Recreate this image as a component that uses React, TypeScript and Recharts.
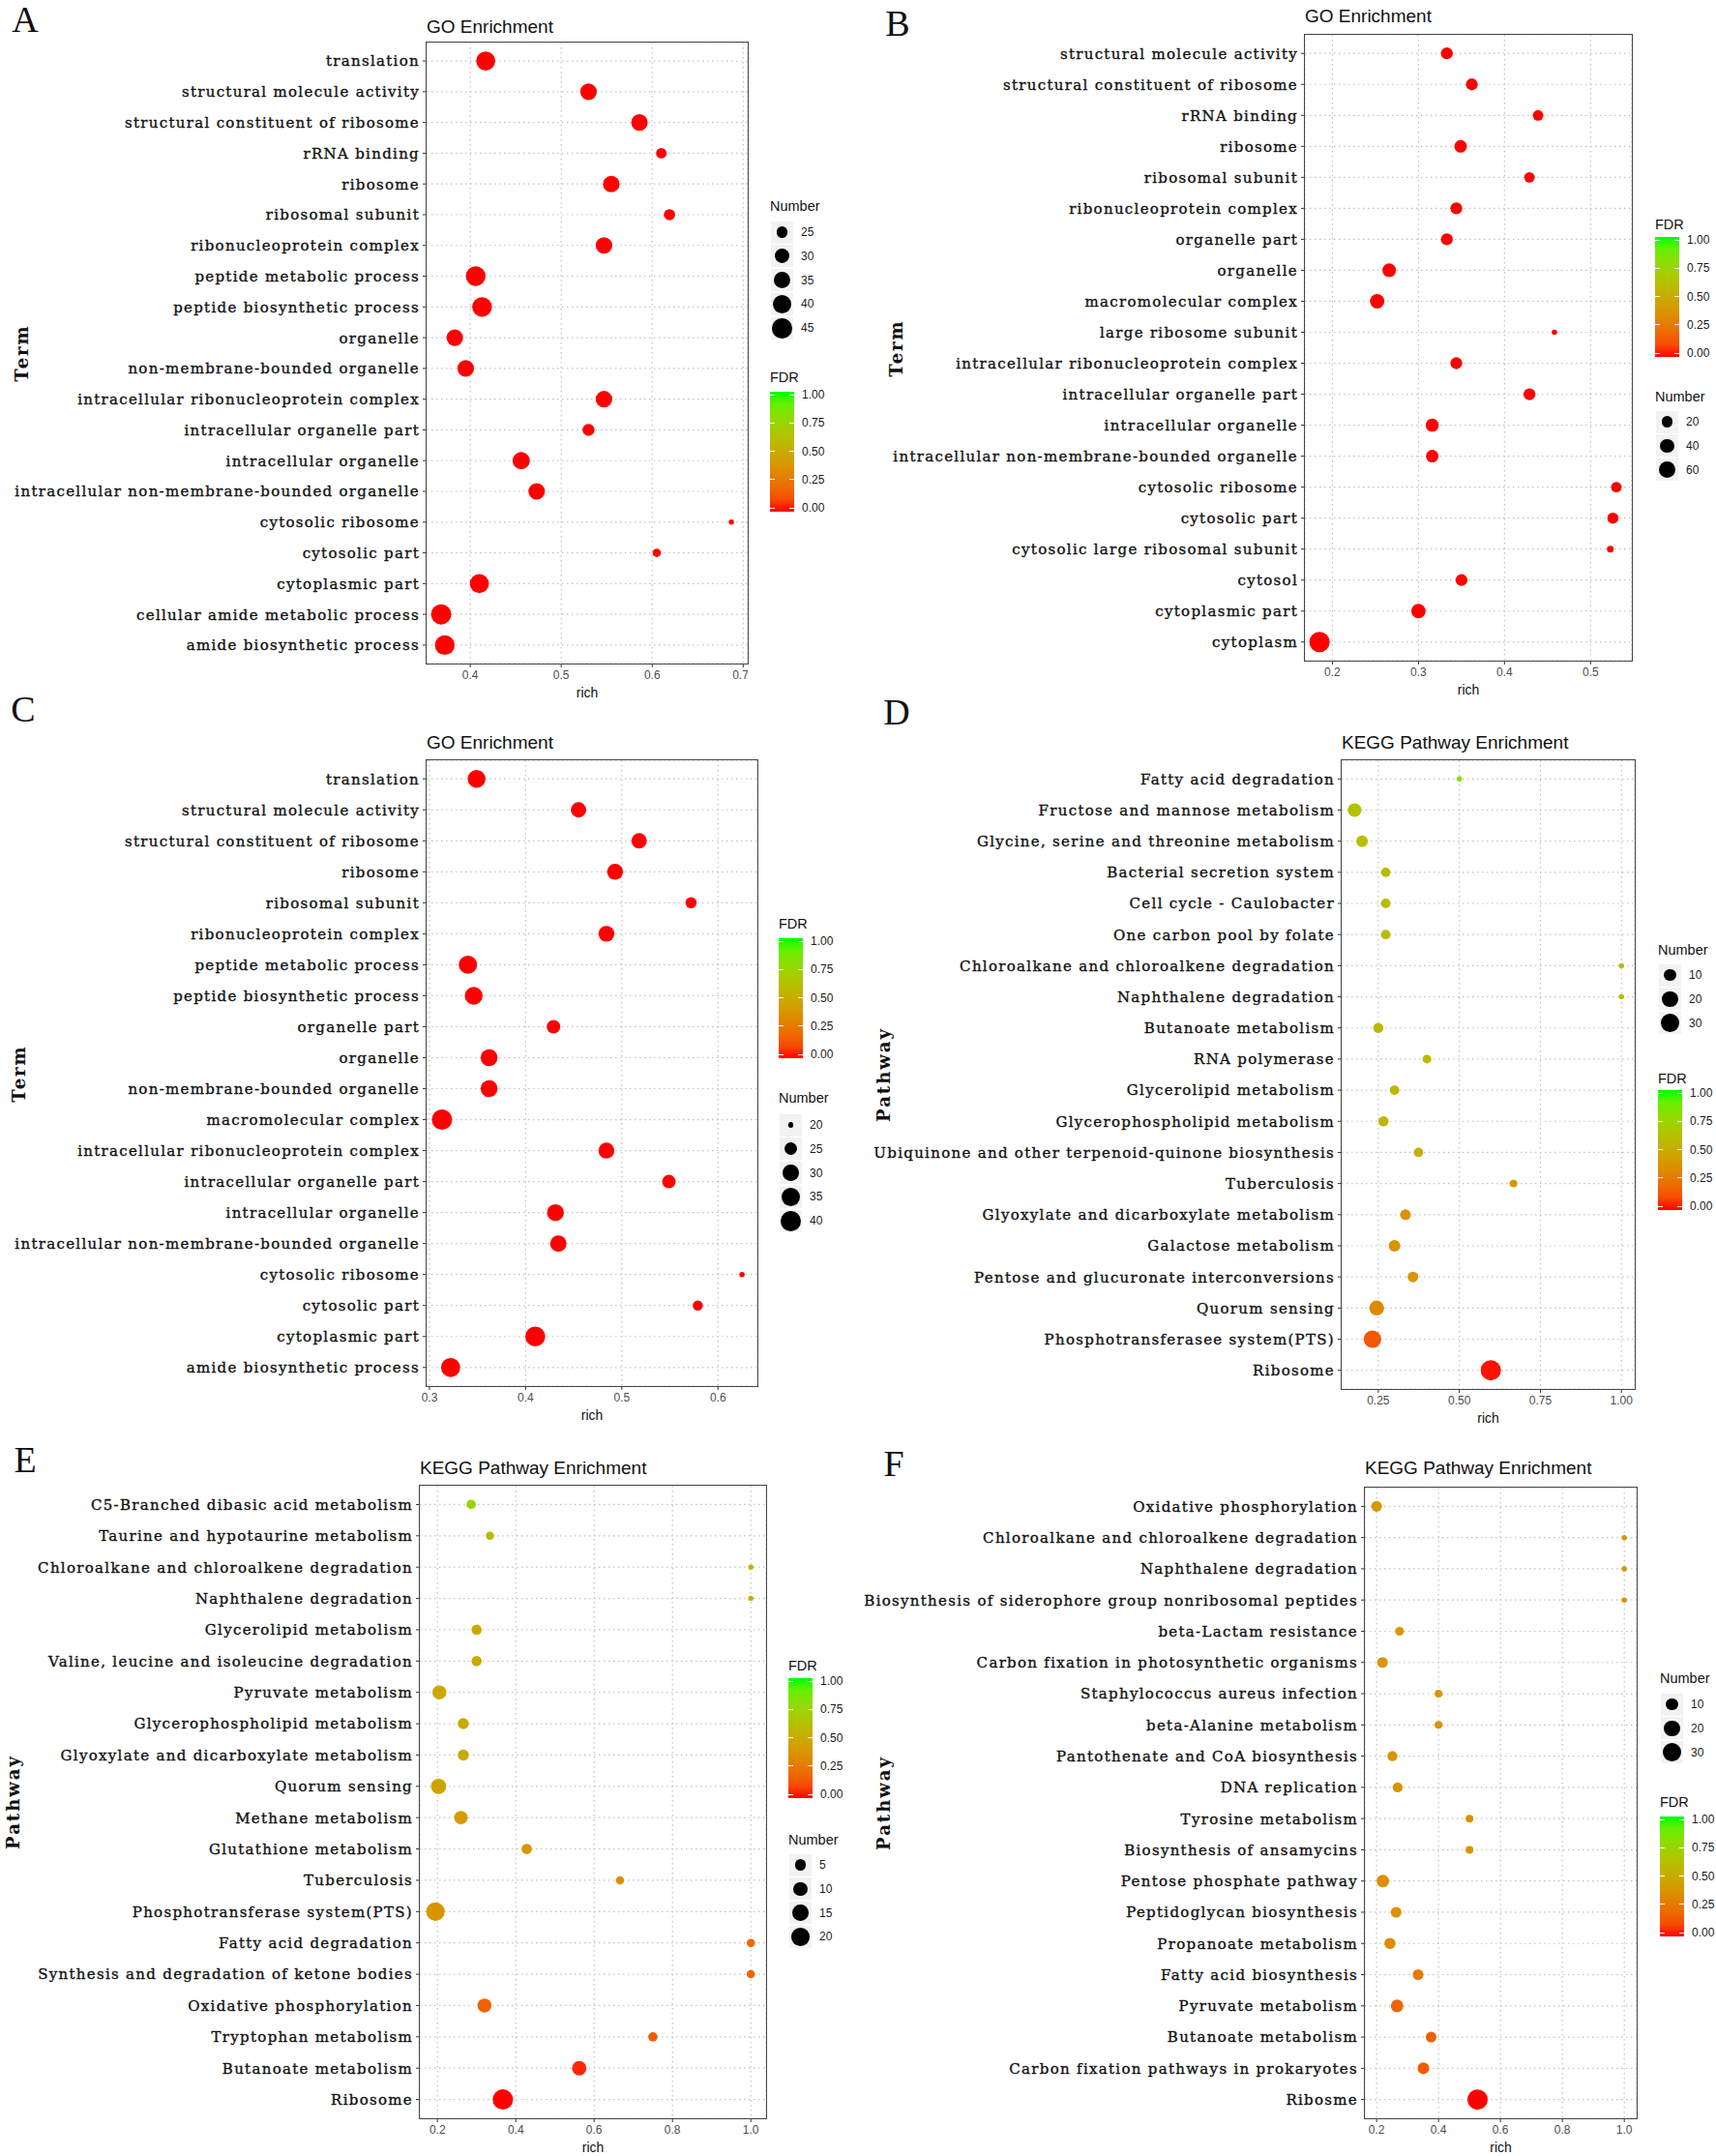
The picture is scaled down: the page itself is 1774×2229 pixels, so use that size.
import React from "react";
import {
  ScatterChart,
  Scatter,
  XAxis,
  YAxis,
  ZAxis,
  CartesianGrid,
  Cell,
  Label,
} from "recharts";

// ---- data ----

const termsA = [
  "translation",
  "structural molecule activity",
  "structural constituent of ribosome",
  "rRNA binding",
  "ribosome",
  "ribosomal subunit",
  "ribonucleoprotein complex",
  "peptide metabolic process",
  "peptide biosynthetic process",
  "organelle",
  "non-membrane-bounded organelle",
  "intracellular ribonucleoprotein complex",
  "intracellular organelle part",
  "intracellular organelle",
  "intracellular non-membrane-bounded organelle",
  "cytosolic ribosome",
  "cytosolic part",
  "cytoplasmic part",
  "cellular amide metabolic process",
  "amide biosynthetic process",
];
const richA = [0.417, 0.53, 0.586, 0.61, 0.555, 0.619, 0.547, 0.406, 0.413, 0.383, 0.395, 0.547, 0.53, 0.456, 0.473, 0.687, 0.605, 0.41, 0.368, 0.372];
const countA = [42, 35, 35, 24, 35, 25, 35, 44, 44, 35, 35, 35, 26, 37, 35, 21, 22, 42, 46, 44];
const fdrA = [0, 0, 0, 0, 0, 0, 0, 0, 0, 0, 0, 0, 0, 0, 0, 0, 0, 0, 0, 0];

const termsB = [
  "structural molecule activity",
  "structural constituent of ribosome",
  "rRNA binding",
  "ribosome",
  "ribosomal subunit",
  "ribonucleoprotein complex",
  "organelle part",
  "organelle",
  "macromolecular complex",
  "large ribosome subunit",
  "intracellular ribonucleoprotein complex",
  "intracellular organelle part",
  "intracellular organelle",
  "intracellular non-membrane-bounded organelle",
  "cytosolic ribosome",
  "cytosolic part",
  "cytosolic large ribosomal subunit",
  "cytosol",
  "cytoplasmic part",
  "cytoplasm",
];
const richB = [0.333, 0.362, 0.439, 0.349, 0.429, 0.344, 0.333, 0.266, 0.252, 0.458, 0.344, 0.429, 0.316, 0.316, 0.53, 0.526, 0.523, 0.35, 0.3, 0.185];
const countB = [25, 25, 18, 29, 18, 25, 25, 37, 42, 6, 25, 25, 33, 29, 18, 21, 7, 25, 42, 105];
const fdrB = [0, 0, 0, 0, 0, 0, 0, 0, 0, 0, 0, 0, 0, 0, 0, 0, 0, 0, 0, 0];

const termsC = [
  "translation",
  "structural molecule activity",
  "structural constituent of ribosome",
  "ribosome",
  "ribosomal subunit",
  "ribonucleoprotein complex",
  "peptide metabolic process",
  "peptide biosynthetic process",
  "organelle part",
  "organelle",
  "non-membrane-bounded organelle",
  "macromolecular complex",
  "intracellular ribonucleoprotein complex",
  "intracellular organelle part",
  "intracellular organelle",
  "intracellular non-membrane-bounded organelle",
  "cytosolic ribosome",
  "cytosolic part",
  "cytoplasmic part",
  "amide biosynthetic process",
];
const richC = [0.349, 0.455, 0.518, 0.493, 0.572, 0.484, 0.34, 0.346, 0.429, 0.362, 0.362, 0.313, 0.484, 0.549, 0.431, 0.434, 0.625, 0.579, 0.41, 0.322];
const countC = [34, 29, 29, 30, 23, 30, 35, 34, 26, 32, 32, 40, 30, 26, 32, 31, 20, 22, 39, 37];
const fdrC = [0, 0, 0, 0, 0, 0, 0, 0, 0, 0, 0, 0, 0, 0, 0, 0, 0, 0, 0, 0];

const termsD = [
  "Fatty acid degradation",
  "Fructose and mannose metabolism",
  "Glycine, serine and threonine metabolism",
  "Bacterial secretion system",
  "Cell cycle - Caulobacter",
  "One carbon pool by folate",
  "Chloroalkane and chloroalkene degradation",
  "Naphthalene degradation",
  "Butanoate metabolism",
  "RNA polymerase",
  "Glycerolipid metabolism",
  "Glycerophospholipid metabolism",
  "Ubiquinone and other terpenoid-quinone biosynthesis",
  "Tuberculosis",
  "Glyoxylate and dicarboxylate metabolism",
  "Galactose metabolism",
  "Pentose and glucuronate interconversions",
  "Quorum sensing",
  "Phosphotransferasee system(PTS)",
  "Ribosome",
];
const richD = [0.5, 0.177, 0.2, 0.273, 0.273, 0.273, 1.0, 1.0, 0.25, 0.4, 0.3, 0.266, 0.374, 0.667, 0.334, 0.3, 0.357, 0.245, 0.232, 0.597];
const countD = [1, 13, 8, 4, 4, 4, 1, 1, 5, 3, 4, 5, 4, 2, 6, 8, 6, 17, 27, 40];
const fdrD = [0.82, 0.62, 0.61, 0.6, 0.6, 0.6, 0.58, 0.58, 0.58, 0.57, 0.56, 0.56, 0.54, 0.4, 0.38, 0.38, 0.38, 0.33, 0.14, 0.01];

const termsE = [
  "C5-Branched dibasic acid metabolism",
  "Taurine and hypotaurine metabolism",
  "Chloroalkane and chloroalkene  degradation",
  "Naphthalene degradation",
  "Glycerolipid metabolism",
  "Valine, leucine and isoleucine degradation",
  "Pyruvate metabolism",
  "Glycerophospholipid metabolism",
  "Glyoxylate and dicarboxylate metabolism",
  "Quorum sensing",
  "Methane metabolism",
  "Glutathione metabolism",
  "Tuberculosis",
  "Phosphotransferase system(PTS)",
  "Fatty acid degradation",
  "Synthesis and degradation of ketone bodies",
  "Oxidative phosphorylation",
  "Tryptophan metabolism",
  "Butanoate metabolism",
  "Ribosome",
];
const richE = [0.286, 0.334, 1.0, 1.0, 0.3, 0.3, 0.205, 0.266, 0.266, 0.203, 0.26, 0.428, 0.666, 0.195, 1.0, 1.0, 0.32, 0.75, 0.562, 0.367];
const countE = [3, 2, 1, 1, 4, 4, 10, 5, 5, 13, 9, 4, 2, 22, 2, 2, 10, 3, 11, 28];
const fdrE = [0.74, 0.58, 0.53, 0.53, 0.5, 0.5, 0.48, 0.48, 0.48, 0.46, 0.41, 0.39, 0.37, 0.38, 0.19, 0.19, 0.17, 0.16, 0.03, 0];

const termsF = [
  "Oxidative phosphorylation",
  "Chloroalkane and chloroalkene degradation",
  "Naphthalene degradation",
  "Biosynthesis of siderophore group nonribosomal peptides",
  "beta-Lactam resistance",
  "Carbon fixation in photosynthetic organisms",
  "Staphylococcus aureus infection",
  "beta-Alanine metabolism",
  "Pantothenate and CoA biosynthesis",
  "DNA replication",
  "Tyrosine metabolism",
  "Biosynthesis of ansamycins",
  "Pentose phosphate pathway",
  "Peptidoglycan biosynthesis",
  "Propanoate metabolism",
  "Fatty acid biosynthesis",
  "Pyruvate metabolism",
  "Butanoate metabolism",
  "Carbon fixation pathways in prokaryotes",
  "Ribosme",
];
const richF = [0.2, 1.0, 1.0, 1.0, 0.274, 0.219, 0.4, 0.4, 0.251, 0.268, 0.5, 0.5, 0.22, 0.263, 0.243, 0.334, 0.266, 0.376, 0.351, 0.526];
const countF = [6, 1, 1, 1, 3, 6, 2, 2, 5, 5, 2, 2, 10, 6, 7, 6, 10, 6, 8, 40];
const fdrF = [0.4, 0.38, 0.38, 0.38, 0.39, 0.39, 0.38, 0.38, 0.38, 0.38, 0.37, 0.37, 0.37, 0.37, 0.35, 0.26, 0.18, 0.16, 0.15, 0];

const ticksA = [0.4, 0.5, 0.6, 0.7];
const ticksB = [0.2, 0.3, 0.4, 0.5];
const ticksC = [0.3, 0.4, 0.5, 0.6];
const ticksD = [0.25, 0.5, 0.75, 1];
const ticksEF = [0.2, 0.4, 0.6, 0.8, 1];

const breaksA = [25, 30, 35, 40, 45];
const breaksB = [20, 40, 60];
const breaksC = [20, 25, 30, 35, 40];
const breaksD = [10, 20, 30];
const breaksE = [5, 10, 15, 20];
const breaksF = [10, 20, 30];
const fdrBreaks = [1, 0.75, 0.5, 0.25, 0];

// ---- colour ramp: red -> green interpolated in CIELAB (like ggplot) ----

const RED_LAB = [53.24, 80.09, 67.2];
const GREEN_LAB = [87.73, -86.18, 83.18];

function labToHex(L: number, a: number, b: number): string {
  const fy = (L + 16) / 116;
  const fx = fy + a / 500;
  const fz = fy - b / 200;
  const inv = (t: number) => (t ** 3 > 0.008856 ? t ** 3 : (t - 16 / 116) / 7.787);
  const X = 0.95047 * inv(fx);
  const Y = inv(fy);
  const Z = 1.08883 * inv(fz);
  const lin = [
    3.2406 * X - 1.5372 * Y - 0.4986 * Z,
    -0.9689 * X + 1.8758 * Y + 0.0415 * Z,
    0.0557 * X - 0.204 * Y + 1.057 * Z,
  ];
  return (
    "#" +
    lin
      .map((c) => {
        const v = c <= 0.0031308 ? 12.92 * c : 1.055 * Math.pow(Math.max(c, 0), 1 / 2.4) - 0.055;
        const n = Math.round(Math.min(1, Math.max(0, v)) * 255);
        return n.toString(16).padStart(2, "0");
      })
      .join("")
  );
}

function fdrColor(f: number): string {
  const t = Math.min(1, Math.max(0, f));
  return labToHex(
    RED_LAB[0] + (GREEN_LAB[0] - RED_LAB[0]) * t,
    RED_LAB[1] + (GREEN_LAB[1] - RED_LAB[1]) * t,
    RED_LAB[2] + (GREEN_LAB[2] - RED_LAB[2]) * t
  );
}

// dot diameter range in px (ggplot size range)
const DMIN = 5.5;
const DMAX = 21;

const SERIF = "'DejaVu Serif', serif";
const SANS = "'Liberation Sans', Arial, sans-serif";

type LegendPos = {
  x: number;
  numTitle: number;
  keyTop: number;
  fdrTitle: number;
  barTop: number;
  breaks: number[];
};

type PanelDef = {
  letter: string;
  letterX: number;
  letterY: number;
  title: string;
  titleY: number;
  axisName: string;
  axisX: number;
  terms: string[];
  rich: number[];
  count: number[];
  fdr: number[];
  domain: [number, number];
  ticks: number[];
  digits: number;
  box: [number, number, number, number];
  chartLeft: number;
  legend: LegendPos;
};

const panels: PanelDef[] = [
  {
    letter: "A", letterX: 26, letterY: 20, title: "GO Enrichment", titleY: 28, axisName: "Term", axisX: 23,
    terms: termsA, rich: richA, count: countA, fdr: fdrA,
    domain: [0.352, 0.705], ticks: ticksA, digits: 1,
    box: [441, 44, 773, 686], chartLeft: 0,
    legend: { x: 796, numTitle: 213, keyTop: 240, fdrTitle: 390, barTop: 405, breaks: breaksA },
  },
  {
    letter: "B", letterX: 928, letterY: 24, title: "GO Enrichment", titleY: 17, axisName: "Term", axisX: 927,
    terms: termsB, rich: richB, count: countB, fdr: fdrB,
    domain: [0.168, 0.548], ticks: ticksB, digits: 1,
    box: [1349, 36, 1687, 683], chartLeft: 890,
    legend: { x: 1711, numTitle: 410, keyTop: 436, fdrTitle: 232, barTop: 245, breaks: breaksB },
  },
  {
    letter: "C", letterX: 24, letterY: 733, title: "GO Enrichment", titleY: 768, axisName: "Term", axisX: 20,
    terms: termsC, rich: richC, count: countC, fdr: fdrC,
    domain: [0.297, 0.641], ticks: ticksC, digits: 1,
    box: [441, 786, 783, 1433], chartLeft: 0,
    legend: { x: 805, numTitle: 1135, keyTop: 1163, fdrTitle: 955, barTop: 970, breaks: breaksC },
  },
  {
    letter: "D", letterX: 927, letterY: 736, title: "KEGG Pathway Enrichment", titleY: 768, axisName: "Pathway", axisX: 914,
    terms: termsD, rich: richD, count: countD, fdr: fdrD,
    domain: [0.137, 1.041], ticks: ticksD, digits: 2,
    box: [1387, 786, 1690, 1436], chartLeft: 890,
    legend: { x: 1714, numTitle: 982, keyTop: 1008, fdrTitle: 1115, barTop: 1127, breaks: breaksD },
  },
  {
    letter: "E", letterX: 26, letterY: 1509, title: "KEGG Pathway Enrichment", titleY: 1518, axisName: "Pathway", axisX: 14,
    terms: termsE, rich: richE, count: countE, fdr: fdrE,
    domain: [0.155, 1.039], ticks: ticksEF, digits: 1,
    box: [434, 1536, 792, 2190], chartLeft: 0,
    legend: { x: 815, numTitle: 1902, keyTop: 1928, fdrTitle: 1722, barTop: 1735, breaks: breaksE },
  },
  {
    letter: "F", letterX: 924, letterY: 1513, title: "KEGG Pathway Enrichment", titleY: 1518, axisName: "Pathway", axisX: 914,
    terms: termsF, rich: richF, count: countF, fdr: fdrF,
    domain: [0.162, 1.04], ticks: ticksEF, digits: 1,
    box: [1411, 1538, 1692, 2190], chartLeft: 890,
    legend: { x: 1716, numTitle: 1735, keyTop: 1762, fdrTitle: 1863, barTop: 1878, breaks: breaksF },
  },
];

const TermTick = (props: any) => {
  const { x, y, payload } = props;
  return (
    <text
      x={x}
      y={y}
      dy="0.36em"
      textAnchor="end"
      fill="#111"
      stroke="#111"
      strokeWidth={0.35}
      style={{ fontFamily: SERIF, fontSize: 15, letterSpacing: 1.3 }}
    >
      {payload.value}
    </text>
  );
};

const Dot = (props: any) => {
  const { cx, cy, size, fill } = props;
  if (cx == null || cy == null) return null;
  return <circle cx={cx} cy={cy} r={Math.max(size, 0) / 2} fill={fill} />;
};

const BAR_W = 25;
const BAR_H = 124;
const KEY = 23;
const KEY_STEP = 24.8;

function Legends({ p, nMin, nMax }: { p: PanelDef; nMin: number; nMax: number }) {
  const lg = p.legend;
  const diam = (v: number) =>
    DMIN + (DMAX - DMIN) * Math.sqrt(Math.max(0, (v - nMin) / (nMax - nMin)));
  const stops = Array.from({ length: 11 }, (_, i) => `${fdrColor(i / 10)} ${i * 10}%`).join(", ");
  const titleStyle: React.CSSProperties = {
    position: "absolute",
    left: lg.x,
    fontFamily: SANS,
    fontSize: 14.5,
    color: "#111",
    lineHeight: "16px",
    whiteSpace: "nowrap",
  };
  const labelStyle: React.CSSProperties = {
    position: "absolute",
    fontFamily: SANS,
    fontSize: 12,
    color: "#1a1a1a",
    lineHeight: "14px",
    whiteSpace: "nowrap",
  };
  return (
    <>
      <div style={{ ...titleStyle, top: lg.numTitle - 8 }}>Number</div>
      {lg.breaks.map((v, i) => {
        const cy = lg.keyTop + i * KEY_STEP;
        const d = diam(v);
        return (
          <React.Fragment key={v}>
            <div
              style={{
                position: "absolute",
                left: lg.x + 1,
                top: cy - KEY / 2,
                width: KEY,
                height: KEY,
                background: "#f2f2f2",
              }}
            />
            <div
              style={{
                position: "absolute",
                left: lg.x + 1 + KEY / 2 - d / 2,
                top: cy - d / 2,
                width: d,
                height: d,
                borderRadius: "50%",
                background: "#000",
              }}
            />
            <div style={{ ...labelStyle, left: lg.x + 32, top: cy - 7 }}>{v}</div>
          </React.Fragment>
        );
      })}
      <div style={{ ...titleStyle, top: lg.fdrTitle - 8 }}>FDR</div>
      <div
        style={{
          position: "absolute",
          left: lg.x,
          top: lg.barTop,
          width: BAR_W,
          height: BAR_H,
          background: `linear-gradient(to top, ${stops})`,
        }}
      />
      {fdrBreaks.map((v) => {
        const y = lg.barTop + 3 + (1 - v) * (BAR_H - 7);
        return (
          <React.Fragment key={v}>
            <div style={{ position: "absolute", left: lg.x, top: y - 0.5, width: 5, height: 1, background: "#fff" }} />
            <div style={{ position: "absolute", left: lg.x + BAR_W - 5, top: y - 0.5, width: 5, height: 1, background: "#fff" }} />
            <div style={{ ...labelStyle, left: lg.x + BAR_W + 8, top: y - 7 }}>{v.toFixed(2)}</div>
          </React.Fragment>
        );
      })}
    </>
  );
}

const XH = 44;

function EnrichPanel({ p }: { p: PanelDef }) {
  const [l, t, r, b] = p.box;
  const yw = l - p.chartLeft;
  const rows = p.terms.map((term, i) => ({
    term,
    rich: p.rich[i],
    count: p.count[i],
    fdr: p.fdr[i],
  }));
  const nMin = Math.min(...p.count);
  const nMax = Math.max(...p.count);
  const pad = (0.1 * (b - t)) / (p.terms.length + 0.2);

  return (
    <>
      <div style={{ position: "absolute", left: p.chartLeft, top: t }}>
        <ScatterChart
          width={yw + (r - l)}
          height={b - t + XH}
          margin={{ top: 0, right: 0, bottom: 0, left: 0 }}
        >
          <CartesianGrid stroke="#c2c2c2" strokeDasharray="1.5 3.5" strokeWidth={1.2} />
          <XAxis
            type="number"
            dataKey="rich"
            domain={p.domain}
            ticks={p.ticks}
            allowDataOverflow
            height={XH}
            tickFormatter={(v: number) => v.toFixed(p.digits)}
            tick={{ fontSize: 12, fill: "#4d4d4d", fontFamily: SANS }}
            tickSize={4}
            tickMargin={3}
            tickLine={{ stroke: "#333" }}
            axisLine={false}
          >
            <Label value="rich" position="insideBottom" offset={9} fill="#111" fontSize={14} fontFamily={SANS} />
          </XAxis>
          <YAxis
            type="category"
            dataKey="term"
            width={yw}
            reversed
            interval={0}
            tick={<TermTick />}
            tickSize={4}
            tickMargin={3}
            tickLine={{ stroke: "#333" }}
            axisLine={false}
            padding={{ top: pad, bottom: pad }}
          />
          <ZAxis
            type="number"
            dataKey={(d: any) => d.count - nMin}
            domain={[0, nMax - nMin]}
            range={[DMIN, DMAX]}
            scale="sqrt"
          />
          <Scatter data={rows} isAnimationActive={false} shape={<Dot />}>
            {rows.map((row, i) => (
              <Cell key={i} fill={fdrColor(row.fdr)} />
            ))}
          </Scatter>
        </ScatterChart>
      </div>
      <div
        style={{
          position: "absolute",
          left: l - 1,
          top: t - 1,
          width: r - l + 2,
          height: b - t + 2,
          border: "1.5px solid #454545",
          boxSizing: "border-box",
          pointerEvents: "none",
        }}
      />
      <div
        style={{
          position: "absolute",
          left: l,
          top: p.titleY - 11,
          fontFamily: SANS,
          fontSize: 19,
          lineHeight: "22px",
          color: "#111",
          whiteSpace: "nowrap",
        }}
      >
        {p.title}
      </div>
      <div
        style={{
          position: "absolute",
          left: p.letterX - 20,
          top: p.letterY - 22,
          width: 40,
          textAlign: "center",
          fontFamily: "'Liberation Serif', serif",
          fontSize: 38,
          lineHeight: "44px",
          color: "#111",
        }}
      >
        {p.letter}
      </div>
      <div
        style={{
          position: "absolute",
          left: p.axisX - 100,
          top: (t + b) / 2 - 12,
          width: 200,
          textAlign: "center",
          transform: "rotate(-90deg)",
          fontFamily: SERIF,
          fontWeight: "bold",
          fontSize: 18,
          letterSpacing: 2,
          lineHeight: "24px",
          color: "#111",
        }}
      >
        {p.axisName}
      </div>
      <Legends p={p} nMin={nMin} nMax={nMax} />
    </>
  );
}

export default function App() {
  return (
    <div
      style={{
        position: "absolute",
        left: 0,
        top: 0,
        width: 1774,
        height: 2229,
        background: "#fff",
        overflow: "hidden",
      }}
    >
      {panels.map((p) => (
        <EnrichPanel key={p.letter} p={p} />
      ))}
    </div>
  );
}
